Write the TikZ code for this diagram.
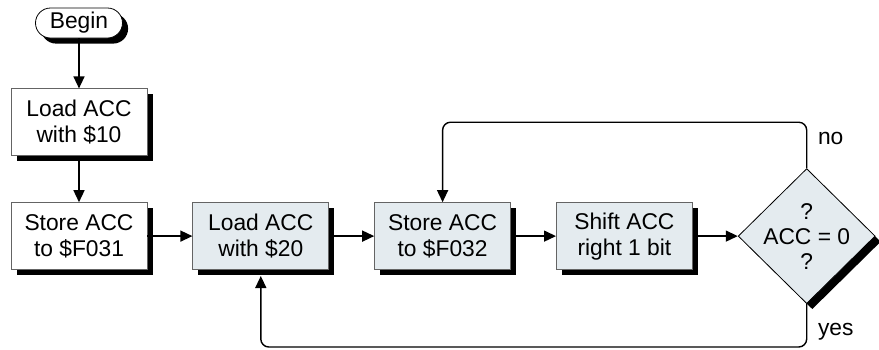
\documentclass[tikz,border=0pt]{standalone}
\usepackage{fontspec}
\setmainfont{Liberation Sans}
\usepackage{tikz}
\usetikzlibrary{shapes,arrows.meta,positioning,shadows}

\definecolor{boxfill}{RGB}{228,235,239}
\definecolor{boxline}{RGB}{100,100,100}

\begin{document}
\begin{tikzpicture}[
        node distance=22.5pt,
        >={Triangle[length=6pt,width=5.5pt]},
        font=\fontsize{11.4}{13}\selectfont,
        shade/.style={drop shadow={fill=black, opacity=1, shadow xshift=2.8pt, shadow yshift=-2.8pt}},
        term/.style={rectangle, rounded corners=7.5pt, draw=black, fill=white, minimum width=43.5pt, minimum height=15pt, inner sep=0pt, shade},
        plain/.style={rectangle, draw=boxline, fill=white, minimum width=68pt, minimum height=33.5pt, align=center, inner sep=0pt, shade},
        box/.style={plain, fill=boxfill},
        decision/.style={diamond, draw=black, fill=boxfill, minimum width=68.5pt, minimum height=67.5pt, inner sep=0pt, shade},
        flow/.style={->, line width=0.7pt}
    ]
    \useasboundingbox (0,0) rectangle (439.5pt,-174.5pt);

    % Start
    \node[term] (begin) at (39.5pt,-11.5pt) {Begin};
    \node[plain, below=25pt of begin] (load-10) {Load ACC\\with \$10};
    \node[plain, below=23pt of load-10] (store-31) {Store ACC\\to \$F031};

    % Main row
    \node[box, right=of store-31] (load-20) {Load ACC\\with \$20};
    \node[box, right=of load-20] (store-32) {Store ACC\\to \$F032};
    \node[box, right=of store-32] (shift) {Shift ACC\\right 1 bit};
    \node[decision, right=of shift, label={[align=center, font=\fontsize{11.4}{12.5}\selectfont]center:?\\ACC = 0\\?}] (test) {};

    % Connections
    \draw[flow] (begin) -- (load-10);
    \draw[flow] (load-10) -- (store-31);
    \draw[flow] (store-31) -- (load-20);
    \draw[flow] (load-20) -- (store-32);
    \draw[flow] (store-32) -- (shift);
    \draw[flow] (shift) -- (test);

    % Loops
    \draw[flow, rounded corners=4pt] (test.north) -- node[pos=0.65, right=2pt] {no} ++(0,23pt) -| (store-32.north);
    \draw[flow, rounded corners=4pt] (test.south) -- node[pos=0.65, right=2pt] {yes} ++(0,-21.5pt) -| ([yshift=-3pt]load-20.south);

\end{tikzpicture}
\end{document}
